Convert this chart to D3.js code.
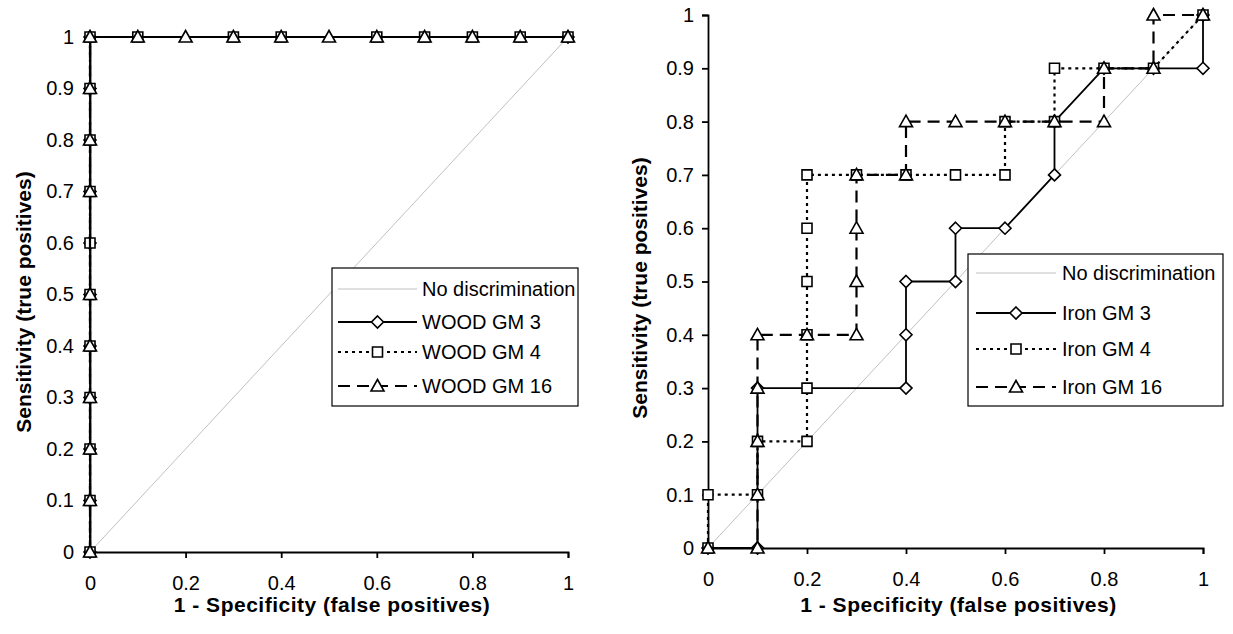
<!DOCTYPE html>
<html>
<head>
<meta charset="utf-8">
<script src="https://cdn.jsdelivr.net/npm/d3@7"></script>
<style>
  body { margin: 0; background: #fff; }
  svg { display: block; font-family: "Liberation Sans", Arial, sans-serif; }
</style>
</head>
<body>
<svg id="chart" width="1233" height="634"></svg>
<script>
// ROC points, as [1 - specificity, sensitivity]
const steps = [0, 0.1, 0.2, 0.3, 0.4, 0.5, 0.6, 0.7, 0.8, 0.9, 1];
const xTicks = [0, 0.2, 0.4, 0.6, 0.8, 1];
const yTicks = steps;
const noDiscrimination = [[0, 0], [1, 1]];

const woodGM3 = steps.map(v => [0, v]).concat([[1, 1]]);
const woodGM4 = steps.map(v => [0, v])
  .concat([0.1, 0.3, 0.4, 0.6, 0.7, 0.8, 0.9, 1].map(v => [v, 1]));
const woodGM16 = [0, 0.1, 0.2, 0.3, 0.4, 0.5, 0.7, 0.8, 0.9, 1].map(v => [0, v])
  .concat(steps.slice(1).map(v => [v, 1]));

const ironGM3 = [[0, 0], [0.1, 0], [0.1, 0.3], [0.4, 0.3], [0.4, 0.4], [0.4, 0.5],
  [0.5, 0.5], [0.5, 0.6], [0.6, 0.6], [0.7, 0.7], [0.7, 0.8], [0.8, 0.9],
  [0.9, 0.9], [1, 0.9], [1, 1]];
const ironGM4 = [[0, 0], [0, 0.1], [0.1, 0.1], [0.1, 0.2], [0.2, 0.2], [0.2, 0.3],
  [0.2, 0.4], [0.2, 0.5], [0.2, 0.6], [0.2, 0.7], [0.3, 0.7], [0.4, 0.7],
  [0.5, 0.7], [0.6, 0.7], [0.6, 0.8], [0.7, 0.8], [0.7, 0.9], [0.8, 0.9],
  [0.9, 0.9], [1, 1]];
const ironGM16 = [[0, 0], [0.1, 0], [0.1, 0.1], [0.1, 0.2], [0.1, 0.3], [0.1, 0.4],
  [0.2, 0.4], [0.3, 0.4], [0.3, 0.5], [0.3, 0.6], [0.3, 0.7], [0.4, 0.7],
  [0.4, 0.8], [0.5, 0.8], [0.6, 0.8], [0.7, 0.8], [0.8, 0.8], [0.8, 0.9],
  [0.9, 0.9], [0.9, 1], [1, 1]];

const woodNames = ['No discrimination', 'WOOD GM 3', 'WOOD GM 4', 'WOOD GM 16'];
const ironNames = ['No discrimination', 'Iron GM 3', 'Iron GM 4', 'Iron GM 16'];

// line styles for the 3 series
const styles = [
  {marker: 'diamond', dash: null, width: 1.8},
  {marker: 'square', dash: '3,4', width: 2.2},
  {marker: 'triangle', dash: '12,7', width: 2.2}
];

const markerPath = {
  diamond: 'M0,-6L6,0L0,6L-6,0Z',
  square: 'M-5,-5H5V5H-5Z',
  triangle: 'M0,-6.5L6.5,5H-6.5Z'
};

const svg = d3.select('#chart');

function drawPanel(cfg) {
  const x = d3.scaleLinear().domain([0, 1]).range([cfg.left, cfg.right]);
  const y = d3.scaleLinear().domain([0, 1]).range([cfg.bottom, cfg.top]);
  const g = svg.append('g');

  // axes
  g.append('g')
    .attr('transform', `translate(0,${cfg.bottom})`)
    .call(d3.axisBottom(x).tickValues(xTicks).tickFormat(d3.format('')).tickSize(6).tickPadding(18))
    .call(a => a.selectAll('text').attr('font-size', 20).attr('fill', '#000'));
  g.append('g')
    .attr('transform', `translate(${cfg.left},0)`)
    .call(d3.axisLeft(y).tickValues(yTicks).tickFormat(d3.format('')).tickSize(6).tickPadding(cfg.yPad))
    .call(a => a.selectAll('text').attr('font-size', 20).attr('fill', '#000'));
  g.selectAll('.domain').attr('stroke', '#000').attr('stroke-width', 1.8);
  g.selectAll('.tick line').attr('stroke', '#000').attr('stroke-width', 1.8);

  const line = d3.line().x(d => x(d[0])).y(d => y(d[1]));

  g.append('path')
    .attr('d', line(noDiscrimination))
    .attr('fill', 'none').attr('stroke', '#c0c0c0').attr('stroke-width', 1);

  cfg.series.forEach((s, i) => {
    const st = styles[i];
    g.append('path')
      .attr('d', line(s))
      .attr('fill', 'none').attr('stroke', '#000')
      .attr('stroke-width', st.width)
      .attr('stroke-dasharray', st.dash);
    g.selectAll(null).data(s).enter().append('path')
      .attr('d', markerPath[st.marker])
      .attr('transform', d => `translate(${x(d[0])},${y(d[1])})`)
      .attr('fill', '#fff').attr('stroke', '#000').attr('stroke-width', 1.6);
  });

  // axis titles
  g.append('text')
    .attr('x', (cfg.left + cfg.right) / 2 + 3).attr('y', 612)
    .attr('text-anchor', 'middle').attr('font-size', 21).attr('font-weight', 'bold')
    .attr('letter-spacing', 0.5)
    .text('1 - Specificity (false positives)');
  g.append('text')
    .attr('transform', `translate(${cfg.yTitleX},${cfg.yTitleY}) rotate(-90)`)
    .attr('text-anchor', 'middle').attr('font-size', 21).attr('font-weight', 'bold')
    .text('Sensitivity (true positives)');

  // legend
  const L = cfg.legend;
  const lg = svg.append('g').attr('transform', `translate(${L.x},${L.y})`);
  lg.append('rect')
    .attr('width', L.w).attr('height', L.h)
    .attr('fill', '#fff').attr('stroke', '#000').attr('stroke-width', 1.2);
  cfg.names.forEach((name, i) => {
    const ry = L.rows[i];
    const st = i === 0 ? null : styles[i - 1];
    lg.append('line')
      .attr('x1', L.x1).attr('x2', L.x2).attr('y1', ry).attr('y2', ry)
      .attr('stroke', st ? '#000' : '#c0c0c0')
      .attr('stroke-width', st ? st.width : 1)
      .attr('stroke-dasharray', st ? st.dash : null);
    if (st) {
      lg.append('path')
        .attr('d', markerPath[st.marker])
        .attr('transform', `translate(${(L.x1 + L.x2) / 2},${ry})`)
        .attr('fill', '#fff').attr('stroke', '#000').attr('stroke-width', 1.6);
    }
    lg.append('text')
      .attr('x', L.tx).attr('y', ry).attr('dy', '0.35em')
      .attr('font-size', 20).text(name);
  });
}

drawPanel({
  left: 90, right: 568, top: 37, bottom: 552,
  yPad: 10, yTitleX: 31, yTitleY: 302,
  series: [woodGM3, woodGM4, woodGM16],
  names: woodNames,
  legend: {x: 332, y: 268, w: 246, h: 138, x1: 6, x2: 85, tx: 90, rows: [21, 54, 84, 118]}
});

drawPanel({
  left: 708, right: 1203, top: 15, bottom: 548,
  yPad: 8, yTitleX: 647, yTitleY: 288,
  series: [ironGM3, ironGM4, ironGM16],
  names: ironNames,
  legend: {x: 968, y: 254, w: 255, h: 152, x1: 8, x2: 88, tx: 94, rows: [19, 59, 95, 133]}
});
</script>
</body>
</html>
